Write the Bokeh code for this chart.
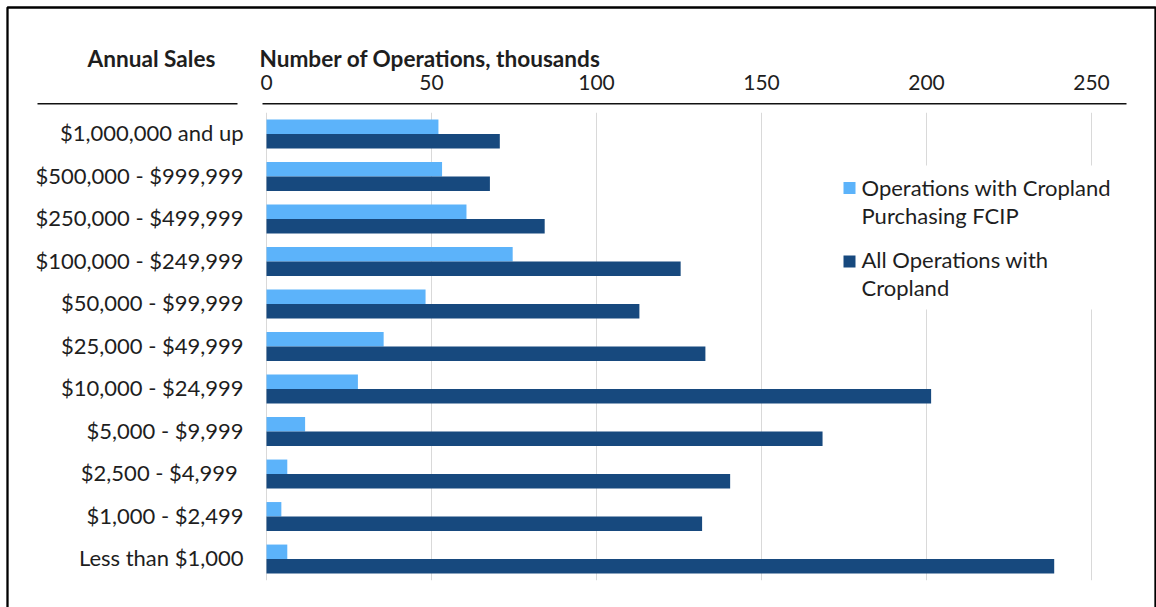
from bokeh.plotting import figure
from bokeh.models import Range1d, ColumnDataSource
from bokeh.transform import dodge
from bokeh.core.properties import value
from bokeh.embed import file_html
from bokeh.resources import INLINE

# ---------------- data ----------------
categories = [
    "$1,000,000 and up",
    "$500,000 - $999,999",
    "$250,000 - $499,999",
    "$100,000 - $249,999",
    "$50,000 - $99,999",
    "$25,000 - $49,999",
    "$10,000 - $24,999",
    "$5,000 - $9,999",
    "$2,500 - $4,999 ",
    "$1,000 - $2,499",
    "Less than $1,000",
]
fcip_ops = [52.1, 53.2, 60.6, 74.6, 48.2, 35.5, 27.7, 11.7, 6.3, 4.5, 6.3]
all_ops = [70.7, 67.7, 84.3, 125.5, 113.0, 133.0, 201.4, 168.5, 140.5, 132.0, 238.7]
x_ticks = [0, 50, 100, 150, 200, 250]
legend_fcip = ["Operations with Cropland", "Purchasing FCIP"]
legend_all = ["All Operations with", "Cropland"]
header_left = "Annual Sales"
header_right = "Number of Operations, thousands"

# ---------------- layout (pixels) ----------------
W, H = 1156, 607
ZERO_PX, PX_PER_UNIT = 266.0, 3.3
ROW0_PX, ROW_PX = 133.5, 42.5
TXT_SHIFT = -8.5  # renderer's baseline correction


def px2x(px):
    return (px - ZERO_PX) / PX_PER_UNIT


def px2y(py):
    return (py - ROW0_PX) / ROW_PX


def tpy(py):
    return px2y(py + TXT_SHIFT)


FONT = value("Lato")
LIGHT = "#5CB3FA"
DARK = "#17497E"
TEXT = "#1E1E1E"
GRID = "#D9D9D9"

p = figure(width=W, height=H, output_backend="svg", toolbar_location=None, tools="",
           x_range=Range1d(px2x(0), px2x(W)), y_range=Range1d(px2y(H), px2y(0)),
           x_axis_type=None, y_axis_type=None, min_border=0)
p.outline_line_color = None
p.background_fill_color = "white"
p.border_fill_color = "white"

n = len(categories)
rows = list(range(n))
src = ColumnDataSource(dict(row=rows, cat=categories, fcip=fcip_ops, all=all_ops))

# gridlines at the tick values, spanning all category rows
p.segment(x0=x_ticks, x1=x_ticks, y0=[-0.5] * len(x_ticks), y1=[n - 0.5] * len(x_ticks),
          line_color=GRID, line_width=1)

# bars
BAR_H = 0.34
p.hbar(y=dodge("row", -BAR_H / 2), left=0, right="fcip", height=BAR_H, source=src,
       fill_color=LIGHT, line_color=None)
p.hbar(y=dodge("row", BAR_H / 2), left=0, right="all", height=BAR_H, source=src,
       fill_color=DARK, line_color=None)

# legend (white box hides gridlines behind it)
p.quad(left=[px2x(836)], right=[px2x(1120)], top=[px2y(165)], bottom=[px2y(309)],
       fill_color="white", line_color=None)
p.scatter(x=[px2x(849), px2x(849)], y=[px2y(187.4), px2y(261.0)], marker="square", size=12,
          fill_color=[LIGHT, DARK], line_color=None)
p.text(x=[px2x(861)] * 4, y=[tpy(195), tpy(223.3), tpy(267.3), tpy(295.7)],
       text=legend_fcip + legend_all, text_font=FONT, text_font_size="22px",
       text_color=TEXT, text_align="left", text_baseline="alphabetic")

# tick labels on top
p.text(x=x_ticks, y=[tpy(90.5)] * len(x_ticks), text=[str(t) for t in x_ticks],
       text_font=FONT, text_font_size="21px", text_color=TEXT,
       text_align="center", text_baseline="alphabetic")

# category labels
p.text(x=0, y="row", text="cat", source=src, x_offset=-23, y_offset=7.2 + TXT_SHIFT,
       text_font=FONT, text_font_size="22px", text_color=TEXT,
       text_align="right", text_baseline="alphabetic")

# headers
p.text(x=[px2x(151)], y=[tpy(66.7)], text=[header_left], text_font=FONT,
       text_font_size="22.6px", text_font_style="bold", text_color=TEXT,
       text_align="center", text_baseline="alphabetic")
p.text(x=[px2x(259)], y=[tpy(66.7)], text=[header_right], text_font=FONT,
       text_font_size="22.6px", text_font_style="bold", text_color=TEXT,
       text_align="left", text_baseline="alphabetic")

# header rules
p.segment(x0=[px2x(37), px2x(262)], x1=[px2x(237), px2x(1126)],
          y0=[px2y(103.3)] * 2, y1=[px2y(103.3)] * 2, line_color="#111111", line_width=1.5)

# outer frame
p.multi_line(xs=[[px2x(7), px2x(7), px2x(1155), px2x(1155)]],
             ys=[[px2y(H + 5), px2y(7), px2y(7), px2y(H + 5)]],
             line_color="black", line_width=2.3)

open("out.html", "w").write(file_html(p, INLINE))
